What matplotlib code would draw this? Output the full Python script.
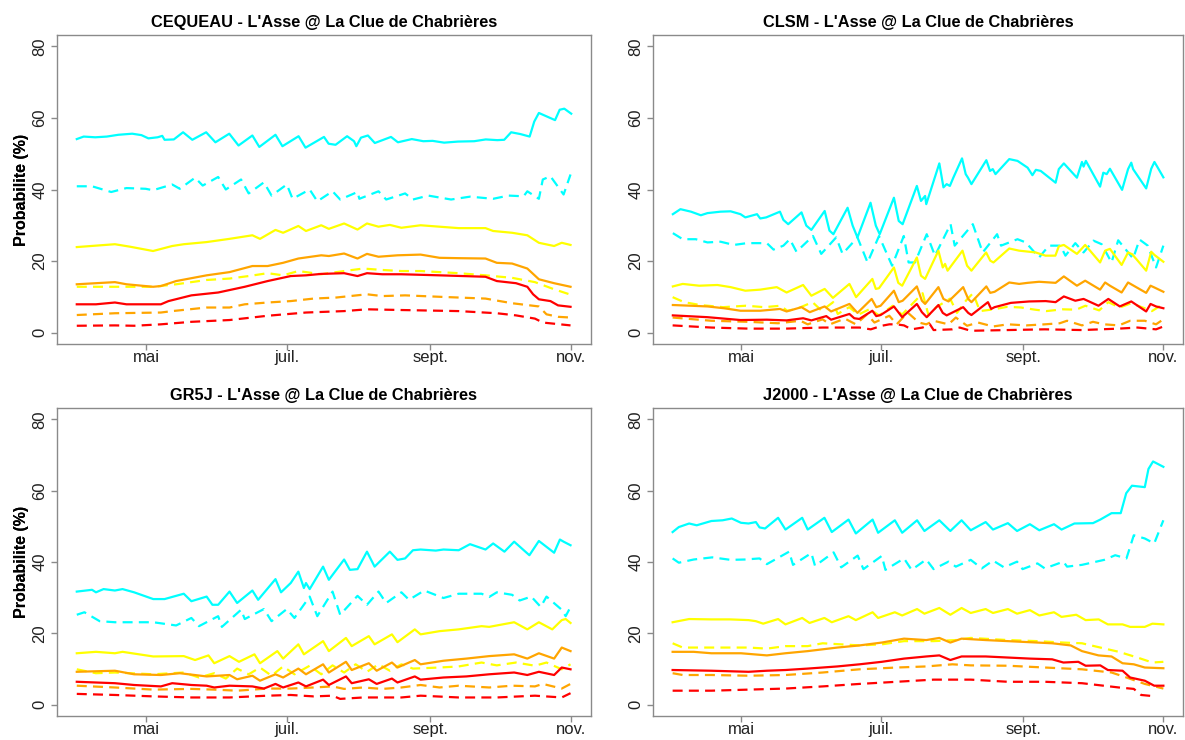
import matplotlib
matplotlib.use("Agg")
import matplotlib.pyplot as plt

# x = days since 1 April (day 214 = 1 November)
MONTH_DAYS = [30, 91, 153, 214]
MONTH_LABELS = ["mai", "juil.", "sept.", "nov."]
Y_TICKS = [0, 20, 40, 60, 80]
MODELS = ["CEQUEAU", "CLSM", "GR5J", "J2000"]
STATION = "L'Asse @ La Clue de Chabrières"
YLABEL = "Probabilite (%)"

# ---------------- CEQUEAU ----------------
ceq_cyan_solid = [(0, 54.1), (3, 54.8), (8, 54.6), (13, 54.8), (18, 55.3), (24, 55.6), (28, 55.2), (31, 54.3),
                  (35, 54.6), (37, 55.0), (38, 53.9), (42, 54.0), (46, 56.0), (50, 53.9), (56, 56.0), (60, 53.2),
                  (66, 55.6), (70, 52.3), (76, 55.1), (79, 51.9), (86, 55.3), (89, 52.1), (96, 54.9), (99, 51.7),
                  (107, 54.7), (109, 52.8), (112, 52.5), (117, 54.9), (120, 53.5), (121, 52.1), (123, 54.5),
                  (126, 55.1), (129, 53.0), (136, 54.7), (139, 53.2), (145, 54.1), (150, 53.5), (154, 53.6),
                  (159, 53.1), (165, 53.4), (172, 53.5), (177, 54.0), (182, 53.8), (185, 53.9), (188, 56.0),
                  (192, 55.5), (196, 54.8), (198, 59.0), (200, 61.4), (207, 59.4), (209, 62.3), (211, 62.6),
                  (214, 61.2)]
ceq_cyan_dash = [(0, 40.9), (6.6, 40.9), (14.9, 39.3), (21.5, 40.4), (29.8, 40.2), (33, 39.8), (41.3, 41.4),
                 (44.6, 40.2), (51.2, 43.3), (54.5, 41.1), (61.2, 43.5), (64.5, 40.0), (71.1, 42.8), (74.4, 38.9),
                 (81, 42.0), (84.3, 38.3), (90.9, 41.4), (93.4, 37.4), (100.8, 40.0), (104.1, 36.7), (110.7, 39.5),
                 (114, 37.2), (121.5, 39.3), (122.3, 37.4), (130.6, 39.5), (133.9, 37.2), (142.1, 38.9),
                 (145.5, 37.2), (152.1, 38.3), (162, 37.2), (170.2, 38.0), (180.2, 37.4), (186.8, 38.3),
                 (193.4, 38.1), (195, 39.5), (200, 37.4), (201.7, 42.8), (205, 43.7), (210.7, 38.6), (213.7, 44.2)]
ceq_yellow_solid = [(0, 23.9), (16.5, 24.7), (23.1, 24.0), (33, 22.8), (41.3, 24.2), (46.3, 24.7), (56.2, 25.3),
                    (66.1, 26.2), (76, 27.2), (79.3, 26.2), (86, 28.7), (89.3, 27.9), (95.9, 29.8), (99.2, 28.4),
                    (105.8, 30.0), (109.1, 29.0), (115.7, 30.5), (121.5, 28.8), (125.6, 30.5), (130.6, 29.6),
                    (135.5, 30.1), (140.5, 29.3), (148.8, 30.0), (157, 29.6), (165.3, 29.2), (176.9, 29.2),
                    (180.2, 28.4), (188.4, 27.9), (195, 27.2), (200, 25.1), (206.6, 24.2), (209.9, 25.1),
                    (213.7, 24.5)]
ceq_yellow_dash = [(0, 12.8), (16.5, 12.8), (33, 12.8), (43, 13.5), (56.2, 14.7), (66.1, 15.1), (74.4, 15.8),
                   (82.6, 16.6), (89.3, 16.0), (95.9, 17.2), (105.8, 16.3), (115.7, 17.2), (124, 17.9),
                   (132.2, 17.5), (140.5, 17.2), (148.8, 17.2), (165.3, 16.6), (176.9, 16.0), (188.4, 15.3),
                   (198.3, 14.1), (206.6, 12.1), (213.7, 10.6)]
ceq_orange_solid = [(0, 13.5), (16.5, 14.1), (21.5, 13.5), (33, 12.8), (36.4, 13.0), (43, 14.4), (56.2, 16.0),
                    (66.1, 16.9), (76, 18.6), (82.6, 18.6), (89.3, 19.5), (95.9, 20.7), (105.8, 21.6),
                    (109.1, 21.4), (115.7, 22.1), (121.5, 20.7), (125.6, 22.0), (130.6, 21.2), (138.8, 21.6),
                    (148.8, 21.8), (157, 20.9), (165.3, 20.8), (176.9, 20.7), (181.8, 19.5), (188.4, 19.3),
                    (195, 17.9), (200, 14.9), (206.6, 13.8), (213.7, 12.8)]
ceq_orange_dash = [(0, 4.9), (16.5, 5.4), (36.4, 5.6), (41.3, 6.0), (56.2, 7.0), (66.1, 7.0), (72.7, 7.9),
                   (82.6, 8.4), (92.6, 8.8), (102.5, 9.5), (112.4, 9.8), (125.6, 10.7), (132.2, 10.2),
                   (142.1, 10.4), (157, 10.0), (176.9, 9.5), (188.4, 8.2), (200, 7.3), (203.3, 5.1),
                   (208.3, 4.4), (213.7, 4.2)]
ceq_red_solid = [(0, 7.9), (8.3, 7.9), (16.5, 8.4), (21.5, 7.9), (36.4, 7.9), (39.7, 8.8), (49.6, 10.4),
                 (61.2, 11.2), (72.7, 12.8), (82.6, 14.4), (92.6, 15.8), (99.2, 16.0), (105.8, 16.4),
                 (115.7, 16.6), (121.5, 15.8), (125.6, 16.6), (132.2, 16.3), (140.5, 16.3), (157, 16.0),
                 (176.9, 15.6), (181.8, 14.4), (190.1, 13.8), (195, 12.8), (197.5, 10.7), (200, 9.3),
                 (205, 8.8), (208.3, 7.6), (213.7, 7.2)]
ceq_red_dash = [(0, 1.9), (16.5, 2.0), (24.8, 1.9), (36.4, 2.3), (49.6, 3.0), (66.1, 3.5), (82.6, 4.7),
                (99.2, 5.6), (115.7, 6.0), (125.6, 6.5), (140.5, 6.3), (165.3, 6.0), (181.8, 5.4),
                (190.1, 4.8), (198.3, 3.9), (201.7, 2.8), (213.7, 2.0)]

# ---------------- CLSM ----------------
clsm_cyan_solid = [(0.1, 33.1), (3.4, 34.5), (8, 33.8), (12.3, 32.8), (15.2, 33.4), (20.9, 33.8), (25.3, 33.9),
                   (29.6, 33.1), (31.7, 32.2), (36.8, 33.1), (38.2, 31.9), (40.8, 32.2), (46.8, 33.8),
                   (48.3, 31.5), (50.4, 30.3), (56.2, 33.6), (58.3, 29.9), (60.5, 28.7), (66.3, 34.0),
                   (68.4, 28.5), (70.1, 27.5), (76.3, 34.9), (78.5, 29.9), (80.6, 26.6), (86.3, 36.3),
                   (88.6, 29.9), (90.3, 27.5), (96.5, 37.7), (98.6, 31.2), (100.3, 30.3), (106.5, 41.0),
                   (108.3, 36.8), (110.1, 38.2), (110.6, 35.9), (116.3, 47.3), (118.1, 40.6), (119.5, 41.5),
                   (120.9, 41.0), (122.4, 43.3), (126.2, 48.7), (127.8, 44.3), (128.8, 43.3), (130.3, 41.5),
                   (136.8, 48.2), (138.4, 45.2), (139.6, 45.7), (140.8, 44.3), (146.8, 48.5), (150.4, 48.0),
                   (154.8, 46.1), (156.9, 44.0), (158.4, 45.5), (160.5, 45.2), (167, 41.9), (168.4, 45.7),
                   (170.6, 47.3), (176.3, 43.3), (178.5, 47.7), (179.2, 46.4), (180.2, 48.0), (186.4, 40.8),
                   (187.8, 44.7), (189.3, 44.3), (190.7, 45.8), (196, 39.9), (198.6, 45.7), (200, 47.5),
                   (200.8, 45.7), (206.5, 40.3), (208.7, 45.8), (210.1, 47.7), (211.3, 46.4), (214, 43.4)]
clsm_cyan_dash = [(0.1, 27.8), (4.4, 26.1), (10.1, 26.1), (15.2, 25.2), (20.9, 25.4), (26.7, 24.5), (32.4, 25.0),
                  (41.1, 25.0), (44, 23.2), (48.3, 24.3), (51.1, 26.1), (54, 22.6), (61.2, 27.0), (64.8, 22.0),
                  (71.3, 26.6), (74.1, 22.0), (80.6, 26.6), (85, 19.6), (90, 27.0), (95.7, 18.7), (100.8, 27.0),
                  (102.9, 19.6), (105.7, 19.6), (110.8, 27.5), (114.4, 21.5), (121.2, 30.3), (123, 24.3),
                  (130.9, 30.3), (135.2, 22.4), (141.5, 27.5), (143.2, 24.3), (150.4, 26.1), (154, 25.2),
                  (159.8, 21.0), (164.1, 24.3), (169.1, 24.3), (171.3, 21.5), (175.6, 25.0), (179.2, 22.4),
                  (183.5, 25.7), (187.1, 24.7), (191.4, 19.6), (194.3, 25.8), (200.8, 20.7), (203.6, 26.0),
                  (207.2, 24.3), (210.8, 18.2), (214, 24.3)]
clsm_yellow_solid = [(0.1, 12.9), (4.4, 13.6), (11.6, 13.1), (19.5, 13.3), (25.3, 12.7), (31.7, 11.7), (38.2, 12.0),
                     (45.4, 12.7), (49.7, 11.2), (56.9, 13.3), (60.5, 10.3), (66.3, 12.2), (69.9, 9.7),
                     (77.1, 13.6), (80, 9.9), (87.1, 15.0), (88.6, 12.2), (90, 12.4), (96.5, 18.2), (98.4, 13.9),
                     (100.1, 13.1), (106.5, 21.0), (108.3, 15.9), (110.1, 15.0), (115.9, 22.9), (117.8, 18.2),
                     (118.8, 19.2), (119.9, 17.3), (126.4, 22.9), (128.4, 18.7), (130.3, 17.3), (136.7, 22.4),
                     (138.5, 20.1), (139.9, 19.6), (146.8, 23.5), (151.1, 22.9), (158.3, 22.4), (162.6, 21.5),
                     (166.9, 21.5), (168.4, 24.1), (170.6, 24.5), (176.3, 22.0), (179.9, 24.5), (186.4, 19.6),
                     (188.6, 22.9), (190.7, 23.4), (195.8, 18.9), (198.6, 22.4), (200.4, 21.9), (206.5, 17.3),
                     (208.7, 22.6), (210.1, 21.7), (214, 19.8)]
clsm_yellow_dash = [(0, 9.9), (5, 8.5), (12, 7.7), (22, 7.1), (32, 7.5), (40, 7.1), (47, 7.5), (50, 6.1), (54, 6.6),
                    (61, 8.5), (65, 6.1), (70, 8.5), (72, 5.2), (77, 7.1), (81, 5.0), (86, 6.6), (90, 4.8),
                    (96, 7.5), (100, 5.0), (106, 9.0), (109, 11.0), (111.6, 4.8), (115, 7.1), (121, 9.5),
                    (124, 5.5), (128, 9.0), (131, 11.0), (134, 6.0), (140, 6.5), (146, 7.2), (152, 7.0),
                    (158, 6.4), (163, 6.0), (170, 6.5), (176, 6.4), (180, 7.5), (186, 6.2), (190, 8.5),
                    (195, 7.0), (200, 8.2), (205, 7.0), (209, 6.0), (214, 8.0)]
clsm_orange_solid = [(0.1, 7.7), (8, 7.5), (15.2, 7.3), (22.4, 6.8), (29.6, 6.1), (38.2, 6.1), (46.8, 6.6),
                     (49.7, 5.9), (56.2, 7.1), (59.8, 5.7), (66.3, 7.3), (69.1, 5.9), (77.1, 8.0), (80.6, 5.5),
                     (86.8, 9.4), (88.8, 7.1), (90.7, 7.5), (96.5, 11.7), (98.6, 8.5), (100.3, 8.9), (106.5, 12.9),
                     (108.7, 8.9), (110.1, 8.0), (115.9, 12.7), (118.1, 9.4), (120.3, 8.7), (126.7, 12.7),
                     (128.9, 9.4), (130.3, 8.5), (136.8, 12.9), (138.5, 11.1), (140.4, 11.4), (146.8, 14.0),
                     (151.1, 13.6), (154.8, 13.9), (159.8, 14.2), (167, 13.9), (170.6, 15.7), (176.3, 13.1),
                     (179.9, 14.5), (186.4, 12.0), (188.6, 14.0), (190.7, 13.1), (195.8, 11.2), (198.6, 14.0),
                     (206.5, 11.1), (208.4, 13.1), (210.1, 12.6), (214, 11.4)]
clsm_orange_dash = [(0, 4.2), (16.9, 3.3), (33.1, 3.0), (46, 2.6), (55.7, 3.3), (58.9, 2.3), (65.4, 3.7),
                    (68.6, 2.3), (75.1, 3.9), (79.9, 2.3), (84.8, 5.1), (88, 2.8), (94.5, 4.7), (97.7, 2.3),
                    (102.5, 5.6), (107.4, 2.8), (110.6, 2.3), (113.8, 3.3), (120.3, 2.3), (123.5, 4.2),
                    (128.4, 1.9), (133.2, 2.8), (139.7, 1.7), (146.2, 2.3), (154.2, 2.0), (162.3, 2.3),
                    (168.8, 2.6), (172, 3.3), (178.5, 2.0), (183.3, 3.0), (188.2, 2.3), (194.6, 2.0),
                    (199.5, 3.3), (205.9, 3.3), (210.8, 2.3), (214, 3.7)]
clsm_red_solid = [(0.1, 4.8), (15.2, 4.3), (29.6, 3.5), (41.1, 3.6), (49.7, 3.4), (56.9, 4.0), (60.5, 3.4),
                  (67, 4.6), (69.1, 3.6), (77.1, 5.2), (79.2, 4.0), (81.4, 3.8), (87.1, 6.1), (88.8, 4.6),
                  (90.7, 4.9), (96.5, 7.3), (100.1, 4.3), (106.5, 8.0), (108.7, 5.7), (110.8, 4.3), (115.9, 7.7),
                  (117.8, 5.5), (119.5, 4.8), (126.7, 7.1), (128.9, 5.5), (130.3, 4.9), (137.5, 8.5),
                  (138.9, 6.6), (140.4, 7.1), (147.5, 8.3), (155.5, 8.7), (162.7, 8.8), (167, 8.5),
                  (170.6, 10.1), (175.6, 8.9), (179.2, 9.4), (185.7, 7.5), (190, 9.4), (195, 7.3), (200, 8.7),
                  (206.5, 5.9), (208.4, 8.0), (210.8, 7.3), (214, 6.8)]
clsm_red_dash = [(0, 2.0), (16.9, 1.4), (33.1, 1.1), (49.2, 1.1), (65.4, 1.4), (81.5, 1.4), (86.4, 0.9),
                 (91.2, 1.9), (94.5, 2.3), (97.7, 2.3), (100.9, 2.0), (104.2, 0.9), (109, 1.4), (112.2, 2.3),
                 (113.8, 0.7), (121.9, 0.9), (125.2, 1.4), (130, 0.5), (146.2, 0.7), (162.3, 0.9), (178.5, 0.7),
                 (194.6, 1.1), (202.7, 1.4), (210.8, 0.9), (214, 1.7)]

# ---------------- GR5J ----------------
gr5j_cyan_solid = [(0, 31.7), (6.6, 32.2), (8.3, 31.5), (11.6, 32.4), (16.5, 32.0), (19.8, 32.4), (24.8, 31.5),
                   (33.1, 29.6), (38, 29.6), (41.3, 30.2), (46.3, 31.1), (49.6, 29.0), (56.2, 30.3), (58.7, 28.0),
                   (61.2, 28.0), (66.1, 31.7), (69.4, 28.5), (76, 32.0), (78.5, 29.4), (86, 35.2), (88.4, 31.5),
                   (92.6, 34.1), (95.9, 37.3), (98.3, 32.7), (99.2, 34.1), (100.8, 32.4), (106.6, 38.7),
                   (109.1, 35.0), (115.7, 40.7), (118.2, 37.8), (121.5, 38.0), (125.6, 42.9), (128.9, 38.7),
                   (135.5, 42.9), (138.8, 40.6), (142.1, 41.0), (145.5, 43.3), (148.8, 43.5), (155.4, 43.2),
                   (158.7, 43.5), (165.3, 43.3), (170.2, 45.0), (176.9, 43.5), (180.2, 45.2), (185.1, 42.9),
                   (189.3, 45.7), (195.9, 41.9), (200, 45.9), (206.6, 42.6), (209.1, 46.3), (210.7, 45.7),
                   (213.7, 44.7)]
gr5j_cyan_dash = [(0, 25.2), (3.3, 25.9), (9.9, 23.4), (16.5, 23.1), (33.1, 23.1), (43, 22.2), (49.6, 24.3),
                  (52.9, 22.0), (61.2, 24.8), (62.8, 21.8), (71.1, 26.6), (72.7, 24.0), (81, 26.8), (84.3, 23.4),
                  (90.9, 26.8), (94.2, 24.3), (100.8, 30.3), (104.1, 24.8), (110.7, 31.7), (114, 25.2),
                  (121.5, 30.5), (125.6, 28.0), (130.6, 31.7), (133.9, 28.5), (140.5, 31.5), (143.8, 29.4),
                  (150.4, 32.0), (158.7, 29.9), (165.3, 31.1), (175.2, 31.1), (178.5, 30.2), (181.8, 31.5),
                  (188.4, 30.8), (191.7, 29.2), (196.7, 30.3), (200.8, 27.4), (203.3, 30.3), (209.9, 26.6),
                  (211.6, 24.8), (213.7, 27.4)]
gr5j_yellow_solid = [(0, 14.4), (8.3, 14.8), (16.5, 14.4), (19.8, 14.8), (33.1, 13.5), (46.3, 13.6), (51.2, 12.5),
                     (57, 13.8), (59.5, 11.6), (66.1, 13.6), (70.2, 12.0), (76.9, 14.1), (79.3, 11.6), (86.8, 15.0),
                     (89.3, 12.9), (95.9, 16.9), (98.3, 14.1), (106.6, 17.8), (109.1, 15.0), (116.5, 18.7),
                     (119, 16.4), (126.4, 19.2), (128.9, 16.9), (136.4, 19.7), (138.8, 17.5), (146.3, 21.1),
                     (148.8, 19.7), (157, 20.6), (165.3, 21.1), (175.2, 22.0), (178.5, 21.8), (189.3, 23.1),
                     (195, 21.1), (200, 23.1), (205.8, 21.1), (209.9, 23.7), (211.6, 24.0), (213.7, 22.9)]
gr5j_yellow_dash = [(0, 9.9), (8.3, 8.8), (16.5, 9.0), (33.1, 8.5), (46.3, 9.0), (52.9, 7.6), (59.5, 8.8),
                    (64.5, 7.3), (69.4, 10.1), (74.4, 8.5), (79.3, 10.4), (84.3, 8.1), (89.3, 10.7), (94.2, 8.5),
                    (100.8, 10.9), (105.8, 8.5), (110.7, 11.0), (115.7, 9.0), (120.7, 11.3), (125.6, 9.2),
                    (130.6, 11.3), (135.5, 9.5), (140.5, 11.3), (145.5, 10.1), (157, 10.4), (165.3, 10.7),
                    (175.2, 11.8), (181.8, 11.0), (190.1, 11.8), (198.3, 10.9), (203.3, 11.8), (209.9, 9.9),
                    (213.7, 11.3)]
gr5j_orange_solid = [(0, 9.2), (16.5, 9.5), (24.8, 8.5), (36.4, 8.3), (44.6, 8.8), (56.2, 7.9), (66.1, 8.3),
                     (69.4, 7.1), (76, 8.1), (79.3, 6.7), (86, 8.5), (89.3, 7.6), (95.9, 10.1), (99.2, 8.5),
                     (106.6, 11.3), (109.1, 9.0), (116.5, 12.0), (119, 9.7), (126.4, 11.6), (129.8, 9.5),
                     (136.4, 11.8), (138.8, 10.4), (146.3, 12.5), (148.8, 11.3), (158.7, 12.3), (168.6, 12.9),
                     (178.5, 13.6), (189.3, 14.1), (195, 12.9), (200, 14.4), (206.6, 12.9), (209.9, 16.0),
                     (213.7, 15.0)]
gr5j_orange_dash = [(0, 5.3), (16.5, 4.8), (33.1, 4.2), (49.6, 4.4), (59.5, 4.2), (69.4, 3.9), (82.6, 4.5),
                    (92.6, 4.5), (102.5, 4.8), (110.7, 5.1), (115.7, 4.4), (124, 4.8), (132.2, 4.4), (140.5, 4.8),
                    (148.8, 5.5), (157, 4.8), (165.3, 5.3), (178.5, 4.8), (188.4, 5.3), (198.3, 5.1),
                    (201.7, 5.8), (209.9, 4.5), (213.7, 5.8)]
gr5j_red_solid = [(0, 6.4), (16.5, 6.0), (24.8, 5.5), (36.4, 5.1), (41.3, 6.0), (49.6, 5.5), (56.2, 5.3),
                  (59.5, 4.8), (66.1, 5.3), (76, 5.1), (81, 4.5), (86, 5.8), (89.3, 4.8), (95.9, 6.2), (99.2, 5.1),
                  (106.6, 7.0), (109.1, 5.5), (116.5, 7.9), (119, 6.0), (126.4, 7.1), (129.8, 5.8), (136.4, 7.3),
                  (138.8, 6.2), (146.3, 7.9), (148.8, 7.0), (158.7, 7.6), (168.6, 7.9), (178.5, 8.5),
                  (189.3, 9.0), (195, 8.3), (200, 9.2), (206.6, 8.3), (209.9, 10.4), (213.7, 9.9)]
gr5j_red_dash = [(0, 3.0), (16.5, 2.7), (33.1, 2.3), (49.6, 2.0), (66.1, 2.0), (82.6, 2.5), (92.6, 2.7),
                 (102.5, 2.3), (110.7, 2.5), (114, 1.6), (124, 2.0), (140.5, 2.0), (148.8, 2.5), (165.3, 2.0),
                 (181.8, 2.0), (198.3, 2.5), (209.9, 2.0), (213.7, 3.2)]

# ---------------- J2000 ----------------
j2000_cyan_solid = [(0, 48.4), (2.7, 49.8), (7.2, 50.8), (10.5, 50.3), (16.9, 51.5), (21.8, 51.7), (25.8, 52.2),
                    (29.8, 51.0), (33.1, 50.8), (36.3, 51.2), (37.9, 49.7), (40.3, 49.4), (46, 52.4),
                    (49.2, 49.1), (56.5, 52.4), (58.9, 49.1), (66.2, 52.4), (69.4, 48.4), (76.7, 51.9),
                    (79.9, 48.0), (87.2, 51.9), (89.6, 48.2), (96.9, 51.7), (100.1, 48.2), (106.6, 51.7),
                    (109.8, 48.7), (116.3, 51.7), (121.1, 48.7), (126, 51.7), (130, 48.9), (136.5, 51.2),
                    (139.7, 49.1), (146.2, 50.9), (150.2, 48.7), (155.8, 50.6), (159.9, 48.9), (166.3, 50.6),
                    (169.6, 49.1), (175.2, 50.8), (183.3, 50.9), (186.5, 51.9), (191.4, 53.7), (195.4, 53.7),
                    (197.8, 59.3), (200.3, 61.4), (205.9, 61.0), (207.5, 66.1), (209.5, 68.2), (214, 66.7)]
j2000_cyan_dash = [(0, 41.0), (2.7, 39.8), (9.2, 40.7), (17.3, 41.3), (25.3, 40.6), (31.5, 40.7), (37.9, 41.0),
                   (41.1, 39.4), (50.8, 42.9), (52.5, 39.2), (60.5, 42.5), (62.1, 38.9), (70.2, 42.7),
                   (73.5, 38.5), (80.7, 41.8), (83.2, 38.0), (91.2, 41.7), (92.8, 37.8), (100.9, 41.0),
                   (104.2, 37.8), (110.6, 40.7), (113.8, 38.0), (120.3, 40.1), (123.5, 38.7), (130, 40.6),
                   (134.8, 38.2), (139.7, 40.4), (144.5, 38.5), (150.2, 40.1), (152.6, 38.0), (159.1, 39.6),
                   (162.3, 38.2), (170.4, 40.1), (172, 38.7), (178.5, 39.2), (188.2, 40.6), (193, 41.9),
                   (197.9, 41.0), (201.1, 47.5), (205.9, 46.6), (210, 45.2), (214, 51.7)]
j2000_yellow_solid = [(0, 23.1), (7.2, 24.0), (16.9, 23.9), (25, 23.9), (33.1, 23.7), (36.3, 23.4), (39.5, 22.7),
                      (46, 24.0), (49.2, 22.5), (56.5, 24.3), (59.7, 22.9), (66.2, 24.3), (69.4, 23.1),
                      (76.7, 24.8), (79.9, 23.7), (87.2, 25.9), (89.6, 24.3), (96.9, 25.9), (100.1, 25.0),
                      (106.6, 26.8), (109.8, 25.5), (116.3, 27.1), (121.1, 25.2), (126, 27.1), (130, 25.7),
                      (136.5, 26.8), (139.7, 25.7), (146.2, 26.8), (150.2, 25.5), (155.8, 26.5), (159.9, 25.0),
                      (166.3, 25.9), (169.6, 24.6), (176, 25.2), (180.1, 23.7), (185.8, 23.9), (189.8, 22.5),
                      (196.2, 22.5), (199.5, 21.8), (205.9, 21.8), (209.2, 22.7), (214, 22.5)]
j2000_yellow_dash = [(0, 17.2), (4.4, 16.0), (16.9, 16.0), (33.1, 16.0), (41.1, 15.7), (49.2, 16.4), (58.9, 16.4),
                     (65.4, 17.2), (81.5, 16.6), (91.2, 16.9), (100.9, 17.8), (113.8, 17.8), (123.5, 18.1),
                     (130, 18.7), (146.2, 18.1), (159.1, 17.8), (170.4, 17.4), (178.5, 17.2), (186.5, 16.0),
                     (194.6, 14.8), (202.7, 13.2), (209.2, 11.8), (214, 12.0)]
j2000_orange_solid = [(0, 14.8), (9.2, 14.8), (16.9, 14.4), (29.8, 14.4), (41.1, 13.8), (49.2, 14.4), (58.9, 15.0),
                      (71.8, 16.0), (81.5, 16.6), (91.2, 17.4), (100.9, 18.5), (110.6, 18.1), (116.3, 18.7),
                      (121.1, 17.4), (126, 18.5), (136.5, 18.1), (146.2, 17.8), (155.8, 17.5), (165.5, 17.2),
                      (173.6, 16.6), (178.5, 15.0), (185.7, 13.8), (191.4, 13.5), (196.2, 11.6), (201.1, 11.3),
                      (205.9, 10.4), (214, 10.2)]
j2000_orange_dash = [(0, 8.8), (4.4, 8.3), (16.9, 8.3), (33.1, 8.1), (49.2, 8.3), (65.4, 9.0), (81.5, 9.9),
                     (97.7, 10.4), (110.6, 10.7), (122, 11.3), (130, 11.0), (146.2, 10.9), (162.3, 10.4),
                     (178.5, 9.9), (191.4, 9.0), (197.9, 7.6), (205.9, 5.8), (214, 4.5)]
j2000_red_solid = [(0, 9.7), (16.9, 9.5), (33.1, 9.2), (41.1, 9.5), (49.2, 9.7), (58.9, 10.1), (71.8, 10.7),
                   (81.5, 11.3), (91.2, 12.0), (100.9, 12.9), (110.6, 13.5), (116.3, 13.8), (121.1, 12.5),
                   (126, 13.5), (136.5, 13.5), (146.2, 13.2), (155.8, 12.9), (165.5, 12.7), (170.4, 11.8),
                   (176.9, 12.0), (180.1, 10.9), (186.5, 11.0), (189.8, 9.7), (196.2, 9.5), (199.5, 7.6),
                   (205.9, 6.7), (210, 5.3), (214, 5.3)]
j2000_red_dash = [(0, 3.9), (16.9, 3.9), (33.1, 4.2), (49.2, 4.5), (65.4, 5.1), (81.5, 5.8), (97.7, 6.4),
                  (113.8, 7.0), (130, 7.0), (146.2, 6.4), (162.3, 6.4), (178.5, 6.0), (194.6, 4.8), (201.1, 4.4),
                  (204.3, 2.7), (210.8, 2.3)]

PANELS = [
    [ceq_cyan_solid, ceq_cyan_dash, ceq_yellow_solid, ceq_yellow_dash,
     ceq_orange_solid, ceq_orange_dash, ceq_red_solid, ceq_red_dash],
    [clsm_cyan_solid, clsm_cyan_dash, clsm_yellow_solid, clsm_yellow_dash,
     clsm_orange_solid, clsm_orange_dash, clsm_red_solid, clsm_red_dash],
    [gr5j_cyan_solid, gr5j_cyan_dash, gr5j_yellow_solid, gr5j_yellow_dash,
     gr5j_orange_solid, gr5j_orange_dash, gr5j_red_solid, gr5j_red_dash],
    [j2000_cyan_solid, j2000_cyan_dash, j2000_yellow_solid, j2000_yellow_dash,
     j2000_orange_solid, j2000_orange_dash, j2000_red_solid, j2000_red_dash],
]
COLORS = ["#00FFFF", "#00FFFF", "#FFFF00", "#FFFF00", "#FFA500", "#FFA500", "#FF0000", "#FF0000"]
DASHED = [False, True, False, True, False, True, False, True]

plt.rcParams['font.family'] = ['Liberation Sans', 'DejaVu Sans']

W, H = 1185, 740
fig = plt.figure(figsize=(W / 100, H / 100), dpi=100)

# axes boxes in pixel coordinates: (left, top, right, bottom)
BOXES = [(57, 35, 591, 344), (653, 35, 1183, 344), (57, 408, 591, 716), (653, 408, 1183, 716)]
FRAME = "#8a8a8a"

for i, (l, t, r, b) in enumerate(BOXES):
    ax = fig.add_axes([l / W, 1 - b / H, (r - l) / W, (b - t) / H])
    for series, col, dash in zip(PANELS[i], COLORS, DASHED):
        xs = [p[0] for p in series]
        ys = [p[1] for p in series]
        if dash:
            ax.plot(xs, ys, color=col, lw=1.6, linestyle=(0, (4.5, 2.8)))
        else:
            ax.plot(xs, ys, color=col, lw=1.6)
    span = 214
    ax.set_xlim(-0.04 * span, span * 1.04)
    ax.set_ylim(-3.2, 83.2)
    ax.set_xticks(MONTH_DAYS)
    ax.set_xticklabels(MONTH_LABELS)
    ax.set_yticks(Y_TICKS)
    ax.set_yticklabels([str(v) for v in Y_TICKS], rotation=90, va="center")
    ax.tick_params(axis="both", colors=FRAME, labelcolor="#222222", labelsize=12, length=4, width=1)
    ax.tick_params(axis="x", pad=0.5)
    ax.tick_params(axis="y", pad=3)
    for s in ax.spines.values():
        s.set_color(FRAME)
        s.set_linewidth(1)
    ax.set_title(f"{MODELS[i]} - {STATION}", fontsize=11.8, fontweight="bold", pad=6)
    ax.set_ylabel(YLABEL, fontsize=11.5, fontweight="bold")
    ax.yaxis.set_label_coords((29 - l) / (r - l), 0.5)

fig.savefig("out.png", dpi=100)
